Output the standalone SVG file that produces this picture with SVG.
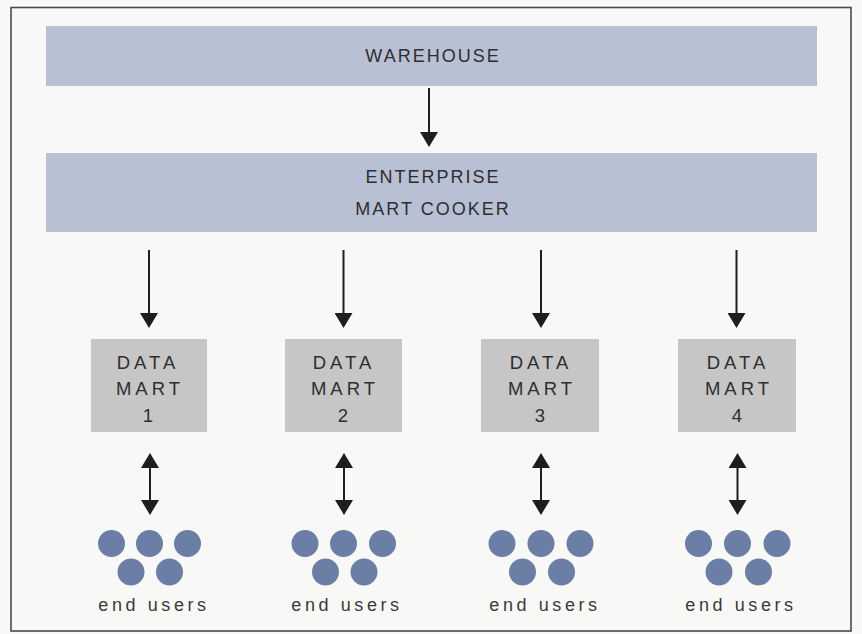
<svg xmlns="http://www.w3.org/2000/svg" width="862" height="634" viewBox="0 0 862 634">
<style>
.bar{fill:#b8c0d4}
.mart{fill:#c6c6c6}
.user{fill:#6b7ea6}
.t{font-family:"Liberation Sans",Arial,sans-serif;fill:#2e2e2e;text-anchor:middle}
.big{font-size:18px;letter-spacing:2px}
.dm{font-size:18.5px;letter-spacing:4px}
.eu{font-size:18px;letter-spacing:3.6px;fill:#3a3a3a}
.conn line{stroke:#1e1e1e;stroke-width:2}
</style>
<defs>
<marker id="ah" markerUnits="userSpaceOnUse" viewBox="0 0 15 18" refX="10" refY="9" markerWidth="15" markerHeight="18" orient="auto-start-reverse">
<path d="M0,0 L15,9 L0,18 Z" fill="#1e1e1e"/>
</marker>
</defs>
<rect x="0" y="0" width="862" height="634" fill="#f8f8f6"/>
<rect x="11" y="7.5" width="840" height="623.5" fill="none" stroke="#4a4a4a" stroke-width="1.6"/>

<g id="warehouse">
<rect class="bar" x="46" y="26" width="771" height="60"/>
<text class="t big" x="433" y="62">WAREHOUSE</text>
</g>
<g id="cooker">
<rect class="bar" x="46" y="153" width="771" height="79"/>
<text class="t big" x="433" y="183">ENTERPRISE</text>
<text class="t big" x="433" y="215">MART COOKER</text>
</g>

<g id="mart1">
<rect class="mart" x="91" y="339" width="116" height="93"/>
<text class="t dm" x="148" y="369">DATA</text>
<text class="t dm" x="150" y="395">MART</text>
<text class="t dm" x="150" y="422">1</text>
</g>
<g id="mart2">
<rect class="mart" x="285" y="339" width="117" height="93"/>
<text class="t dm" x="344" y="369">DATA</text>
<text class="t dm" x="345" y="395">MART</text>
<text class="t dm" x="345" y="422">2</text>
</g>
<g id="mart3">
<rect class="mart" x="481" y="339" width="118" height="93"/>
<text class="t dm" x="541" y="369">DATA</text>
<text class="t dm" x="542" y="395">MART</text>
<text class="t dm" x="542" y="422">3</text>
</g>
<g id="mart4">
<rect class="mart" x="678" y="339" width="118" height="93"/>
<text class="t dm" x="738" y="369">DATA</text>
<text class="t dm" x="739" y="395">MART</text>
<text class="t dm" x="739" y="422">4</text>
</g>

<g id="users1">
<circle class="user" cx="111.5" cy="543.5" r="13.5"/>
<circle class="user" cx="149.5" cy="543.5" r="13.5"/>
<circle class="user" cx="187.5" cy="543.5" r="13.5"/>
<circle class="user" cx="131" cy="572" r="13.5"/>
<circle class="user" cx="169.5" cy="572" r="13.5"/>
<text class="t eu" x="154" y="611">end users</text>
</g>
<g id="users2">
<circle class="user" cx="305" cy="543.5" r="13.5"/>
<circle class="user" cx="343.5" cy="543.5" r="13.5"/>
<circle class="user" cx="382.5" cy="543.5" r="13.5"/>
<circle class="user" cx="325.5" cy="572" r="13.5"/>
<circle class="user" cx="364" cy="572" r="13.5"/>
<text class="t eu" x="347" y="611">end users</text>
</g>
<g id="users3">
<circle class="user" cx="502" cy="543.5" r="13.5"/>
<circle class="user" cx="541" cy="543.5" r="13.5"/>
<circle class="user" cx="580" cy="543.5" r="13.5"/>
<circle class="user" cx="522.5" cy="572" r="13.5"/>
<circle class="user" cx="561.5" cy="572" r="13.5"/>
<text class="t eu" x="545" y="611">end users</text>
</g>
<g id="users4">
<circle class="user" cx="698.5" cy="543.5" r="13.5"/>
<circle class="user" cx="737.5" cy="543.5" r="13.5"/>
<circle class="user" cx="777" cy="543.5" r="13.5"/>
<circle class="user" cx="719" cy="572" r="13.5"/>
<circle class="user" cx="758.5" cy="572" r="13.5"/>
<text class="t eu" x="741" y="611">end users</text>
</g>

<g id="connectors" class="conn">
<line x1="429" y1="88" x2="429" y2="142" marker-end="url(#ah)"/>
<line x1="149" y1="250" x2="149" y2="323" marker-end="url(#ah)"/>
<line x1="343.5" y1="250" x2="343.5" y2="323" marker-end="url(#ah)"/>
<line x1="541" y1="250" x2="541" y2="323" marker-end="url(#ah)"/>
<line x1="736.5" y1="250" x2="736.5" y2="323" marker-end="url(#ah)"/>
<line x1="150" y1="458" x2="150" y2="510" marker-start="url(#ah)" marker-end="url(#ah)"/>
<line x1="344" y1="458" x2="344" y2="510" marker-start="url(#ah)" marker-end="url(#ah)"/>
<line x1="541" y1="458" x2="541" y2="510" marker-start="url(#ah)" marker-end="url(#ah)"/>
<line x1="737.5" y1="458" x2="737.5" y2="510" marker-start="url(#ah)" marker-end="url(#ah)"/>
</g>
</svg>
